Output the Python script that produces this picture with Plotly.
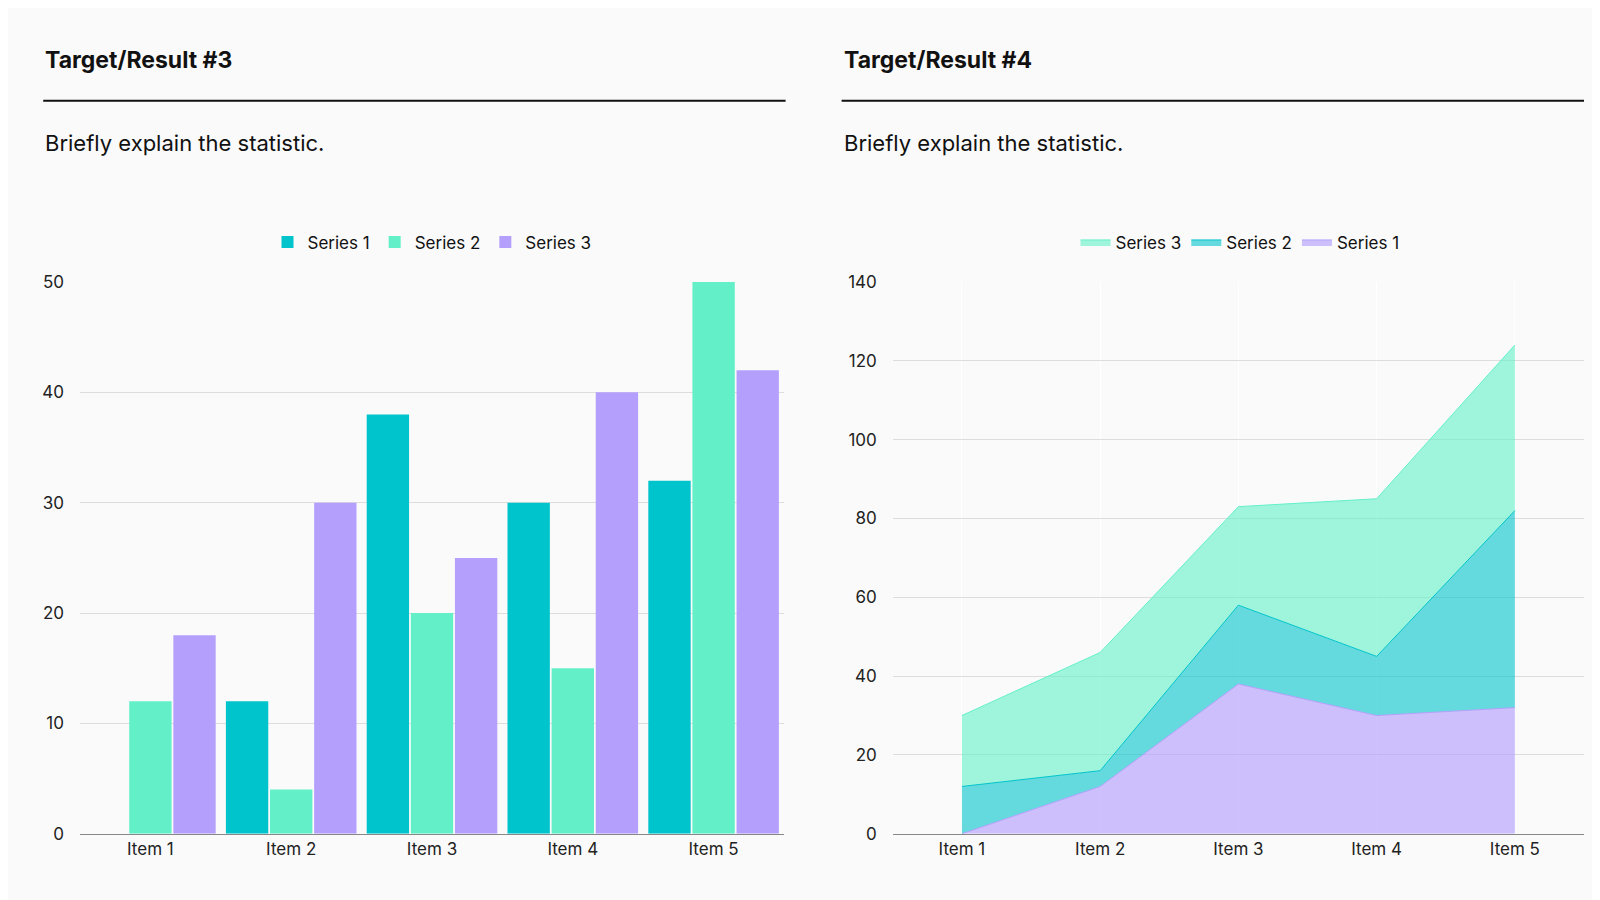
import plotly.graph_objects as go

items = ["Item 1", "Item 2", "Item 3", "Item 4", "Item 5"]
series1 = [0, 12, 38, 30, 32]
series2 = [12, 4, 20, 15, 50]
series3 = [18, 30, 25, 40, 42]

teal = "#00c4cc"
mint = "#63f0c8"
lav = "#b4a0fc"

fig = go.Figure()

# left: grouped bars
for name, vals, col in [("Series 1", series1, teal), ("Series 2", series2, mint), ("Series 3", series3, lav)]:
    fig.add_trace(go.Bar(x=items, y=vals, name=name, marker_color=col, marker_line_width=0,
                         xaxis="x", yaxis="y", legend="legend"))

# right: stacked areas
area = [("Series 1", series1, lav, "rgba(180,160,252,0.65)"),
        ("Series 2", series2, teal, "rgba(0,196,204,0.6)"),
        ("Series 3", series3, mint, "rgba(99,240,200,0.6)")]
for name, vals, col, fillc in area:
    fig.add_trace(go.Scatter(x=items, y=vals, name=name, stackgroup="one", mode="lines",
                             line=dict(color=col, width=1), fillcolor=fillc,
                             xaxis="x2", yaxis="y2", legend="legend2"))

axfont = dict(size=17, color="#222")
fig.update_layout(
    width=1600, height=900, margin=dict(l=0, r=0, t=0, b=0),
    paper_bgcolor="#fafafa", plot_bgcolor="#fafafa",
    font=dict(family="Inter, Roboto, sans-serif", color="#111"),
    barmode="group", bargap=0.06, bargroupgap=0.04,
    xaxis=dict(domain=[0.045, 0.485], anchor="y", tickfont=axfont, showline=True, linecolor="#888", ticks=""),
    yaxis=dict(domain=[0.073, 0.70], anchor="x", range=[0, 50], dtick=10, tickfont=axfont,
               gridcolor="#ddd", zeroline=False, ticklabelstandoff=15),
    xaxis2=dict(domain=[0.553, 0.985], anchor="y2", tickfont=axfont, showline=True, linecolor="#888",
                range=[-0.5, 4.5]),
    yaxis2=dict(domain=[0.073, 0.70], anchor="x2", range=[0, 140], dtick=20, tickfont=axfont,
                gridcolor="#ddd", zeroline=False, ticklabelstandoff=15),
    legend=dict(orientation="h", x=0.265, xanchor="center", y=0.745, yanchor="middle",
                font=dict(size=17), itemwidth=30, bgcolor="rgba(0,0,0,0)"),
    legend2=dict(orientation="h", x=0.77, xanchor="center", y=0.745, yanchor="middle",
                 font=dict(size=17), itemwidth=30, bgcolor="rgba(0,0,0,0)"),
)

for x0, x1 in [(0.022, 0.486), (0.521, 0.985)]:
    fig.add_annotation(x=x0, y=0.952, xref="paper", yref="paper", xanchor="left", yanchor="middle",
                       text="<b>Target/Result #%s</b>" % ("3" if x0 < 0.5 else "4"),
                       showarrow=False, font=dict(size=23, color="#111"))
    fig.add_shape(type="line", xref="paper", yref="paper", x0=x0, x1=x1, y0=0.906, y1=0.906,
                  line=dict(color="#111", width=2))
    fig.add_annotation(x=x0, y=0.858, xref="paper", yref="paper", xanchor="left", yanchor="middle",
                       text="Briefly explain the statistic.", showarrow=False,
                       font=dict(size=22, color="#111"))

fig.write_html("out.html")
